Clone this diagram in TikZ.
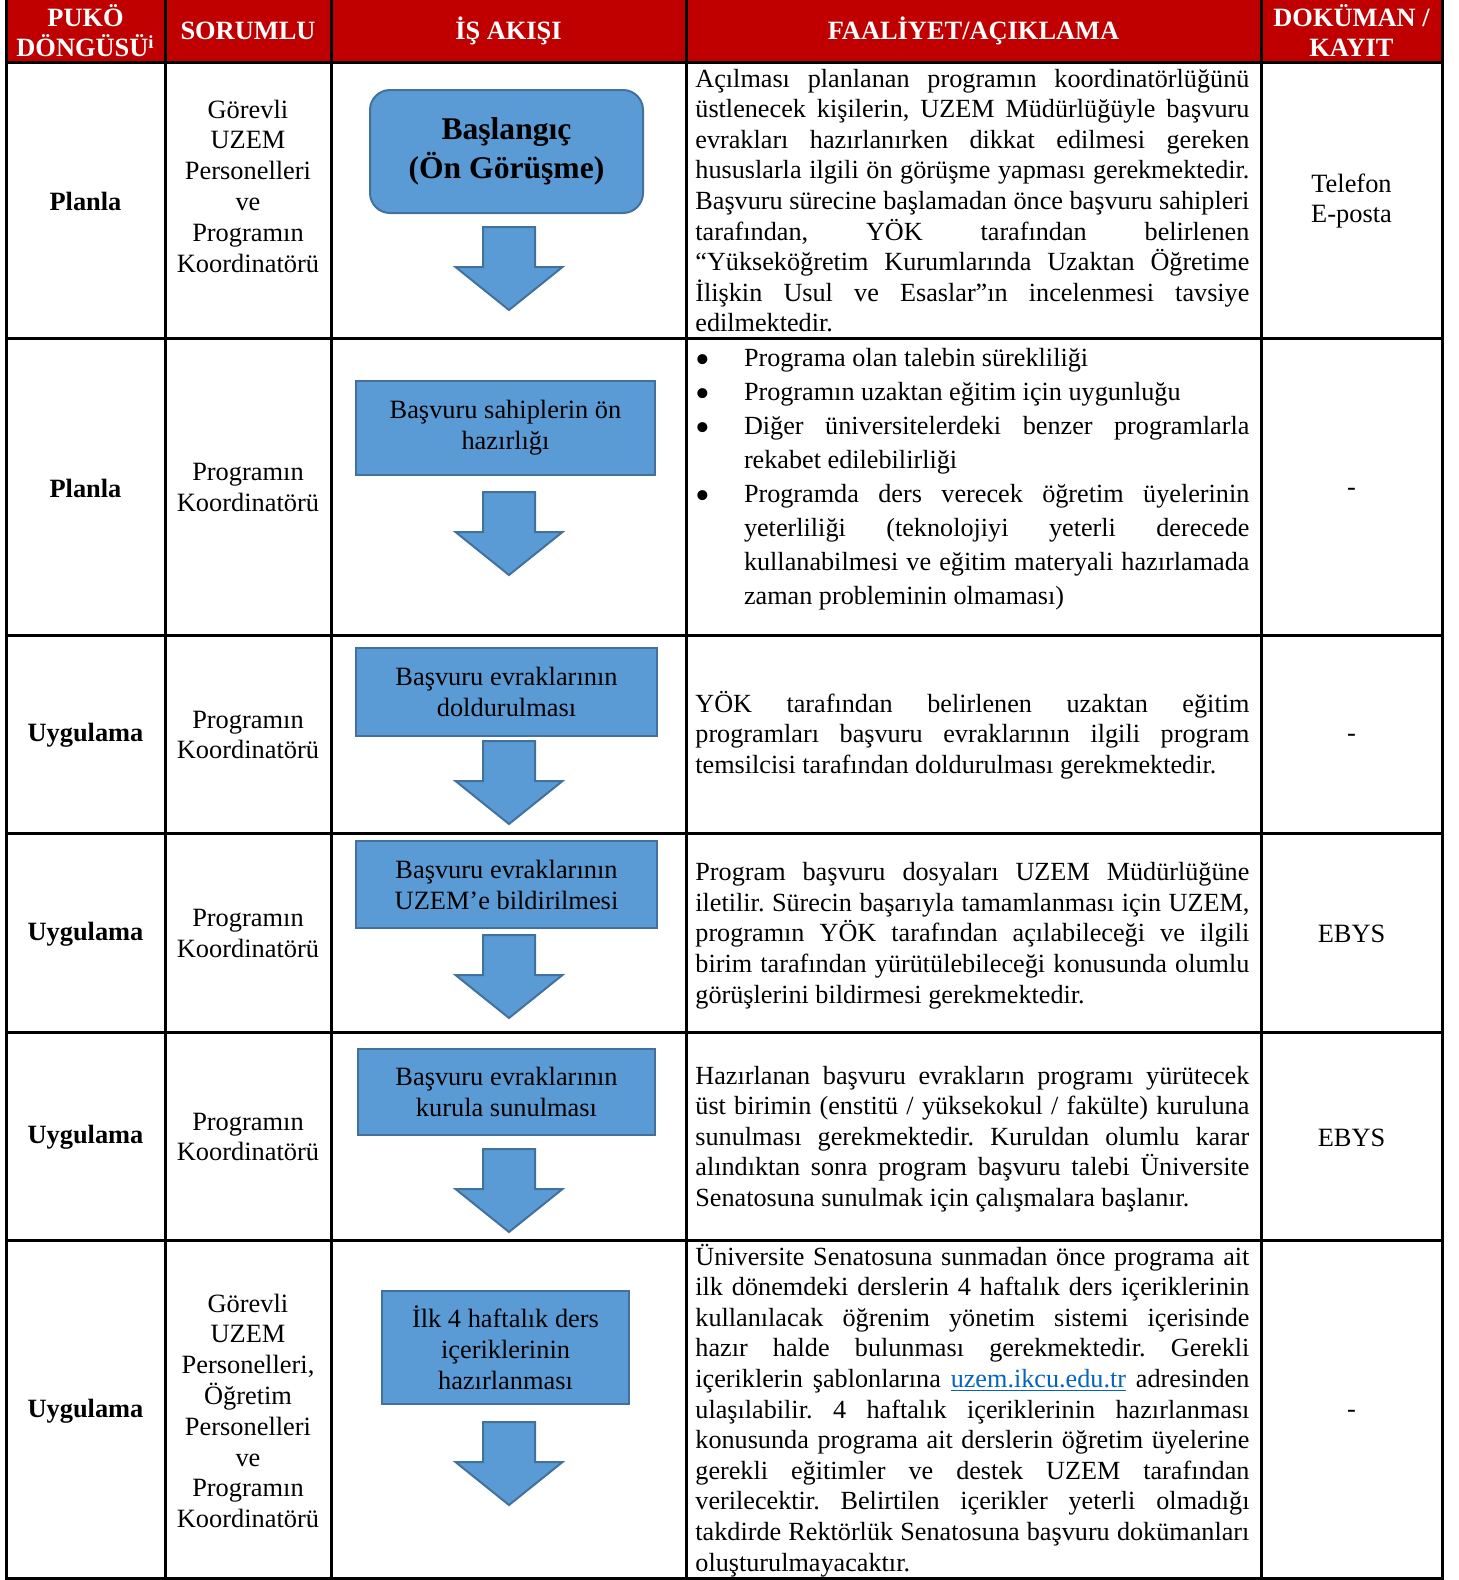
\documentclass[tikz,border=0pt]{standalone}
\usepackage{fontspec}
\setmainfont{Liberation Serif}
\usepackage{xcolor}
\usetikzlibrary{calc,positioning}

\definecolor{hdrred}{HTML}{C00000}
\definecolor{boxblue}{HTML}{5B9BD5}
\definecolor{boxline}{HTML}{41719C}
\definecolor{linkblue}{HTML}{0563C1}

\newlength{\blt}\setlength{\blt}{24.3pt}
\newcommand{\jb}{\linebreak}
\newcommand{\bl}{\makebox[\blt][l]{\raisebox{-0.6ex}{\scalebox{1.6}{\textbullet}}}}
\newcommand{\faalfont}[1]{\fontsize{13.1}{#1}\selectfont\frenchspacing
  \tolerance=10000 \hbadness=10000 \hyphenpenalty=10000 \exhyphenpenalty=10000\relax}
\newcommand{\flowarrow}[1]{%
  \draw[flow arrow] ($(#1)+(-26,0)$) -- ++(52,0) -- ++(0,40) -- ++(27.5,0)
    -- ($(#1)+(0,83)$) -- ++(-53.5,-43) -- ++(27.5,0) -- cycle;}

\begin{document}
\begin{tikzpicture}[x=0.5pt, y=-0.5pt,
  grid line/.style={line width=1.5pt, line cap=rect},
  head text/.style={text=white, font=\fontsize{13.2}{15}\selectfont\bfseries, align=center},
  puko text/.style={font=\fontsize{13.2}{15.3}\selectfont\bfseries},
  cell text/.style={font=\fontsize{13.2}{15.4}\selectfont, align=center},
  faal text/.style={anchor=base west, inner sep=0pt, text width=277pt, align=justify, font=\faalfont{15.3}},
  start box/.style={draw=boxline, line width=1pt, fill=boxblue, rounded corners=10pt, align=center, font=\fontsize{15.8}{19.5}\selectfont\bfseries, minimum width=136.5pt, minimum height=61.5pt},
  step box/.style={draw=boxline, line width=1pt, fill=boxblue, align=center, font=\fontsize{13.2}{15.5}\selectfont},
  flow arrow/.style={draw=boxline, line width=1pt, fill=boxblue, line join=miter}]
\useasboundingbox (0,0) rectangle (1458,1580);
% table
\fill[hdrred] (6,0) rectangle (1442,62.5);
\foreach \x in {6,165,331,686,1261,1442} \draw[grid line] (\x,0) -- (\x,1578);
\foreach \y in {62.5,338.5,635,833,1032,1240,1578} \draw[grid line] (6,\y) -- (1442,\y);
% header
\node[head text] (h1) at (85.5,31) {PUKÖ\\DÖNGÜSÜ\textsuperscript{i}};
\node[head text] (h2) at (248,31) {SORUMLU};
\node[head text] (h3) at (508.5,31) {İŞ AKIŞI};
\node[head text] (h4) at (973.5,31) {FAALİYET/AÇIKLAMA};
\node[head text] (h5) at (1351.5,31) {DOKÜMAN /\\KAYIT};
% puko
\node[puko text] (p1) at (85.5,201) {Planla};
\node[puko text] (p2) at (85.5,488.7) {Planla};
\node[puko text] (p3) at (85.5,735.6) {Uygulama};
\node[puko text] (p4) at (85.5,934) {Uygulama};
\node[puko text] (p5) at (85.5,1137.6) {Uygulama};
\node[puko text] (p6) at (85.5,1411.6) {Uygulama};
% sorumlu
\node[cell text] (s1) at (248,186) {Görevli\\UZEM\\Personelleri\\ve\\Programın\\Koordinatörü};
\node[cell text] (s2) at (248,487.7) {Programın\\Koordinatörü};
\node[cell text] (s3) at (248,735) {Programın\\Koordinatörü};
\node[cell text] (s4) at (248,933.6) {Programın\\Koordinatörü};
\node[cell text] (s5) at (248,1137) {Programın\\Koordinatörü};
\node[cell text] (s6) at (248,1410.8) {Görevli\\UZEM\\Personelleri,\\Öğretim\\Personelleri\\ve\\Programın\\Koordinatörü};
% is akisi
\node[start box] (b1) at (506.5,151.5) {Başlangıç\\(Ön Görüşme)};
\node[step box, minimum width=149.5pt, minimum height=47pt] (b2) at (505.5,428) {Başvuru sahiplerin ön\\hazırlığı};
\node[step box, minimum width=150.5pt, minimum height=44pt] (b3) at (506.5,692) {Başvuru evraklarının\\doldurulması};
\node[step box, minimum width=150.5pt, minimum height=43.5pt] (b4) at (506.5,884.5) {Başvuru evraklarının\\UZEM’e bildirilmesi};
\node[step box, minimum width=148.5pt, minimum height=43pt] (b5) at (506.5,1092) {Başvuru evraklarının\\kurula sunulması};
\node[step box, minimum width=123.5pt, minimum height=56.5pt] (b6) at (505.5,1347.5) {İlk 4 haftalık ders\\içeriklerinin\\hazırlanması};
\coordinate (a1) at (509,227);
\coordinate (a2) at (509,492);
\coordinate (a3) at (509,741);
\coordinate (a4) at (509,935);
\coordinate (a5) at (509,1149);
\coordinate (a6) at (509,1422);
\foreach \a in {a1,a2,a3,a4,a5,a6} {\flowarrow{\a}}
% faaliyet
\node[faal text] (f1) at (695,87) {Açılması planlanan programın koordinatörlüğünü\jb
  üstlenecek kişilerin, UZEM Müdürlüğüyle başvuru\jb
  evrakları hazırlanırken dikkat edilmesi gereken\jb
  hususlarla ilgili ön görüşme yapması gerekmektedir.\jb
  Başvuru sürecine başlamadan önce başvuru sahipleri\jb
  tarafından, YÖK tarafından belirlenen\jb
  “Yükseköğretim Kurumlarında Uzaktan Öğretime\jb
  İlişkin Usul ve Esaslar”ın incelenmesi tavsiye\jb
  edilmektedir.};
\node[faal text, font=\faalfont{17}] (f2) at (695,366) {\bl Programa olan talebin sürekliliği\\
  \bl Programın uzaktan eğitim için uygunluğu\\
  \bl Diğer üniversitelerdeki benzer programlarla\jb
  \hspace*{\blt}rekabet edilebilirliği\\
  \bl Programda ders verecek öğretim üyelerinin\jb
  \hspace*{\blt}yeterliliği (teknolojiyi yeterli derecede\jb
  \hspace*{\blt}kullanabilmesi ve eğitim materyali hazırlamada\jb
  \hspace*{\blt}zaman probleminin olmaması)};
\node[faal text] (f3) at (695,712) {YÖK tarafından belirlenen uzaktan eğitim\jb
  programları başvuru evraklarının ilgili program\jb
  temsilcisi tarafından doldurulması gerekmektedir.};
\node[faal text] (f4) at (695,880.6) {Program başvuru dosyaları UZEM Müdürlüğüne\jb
  iletilir. Sürecin başarıyla tamamlanması için UZEM,\jb
  programın YÖK tarafından açılabileceği ve ilgili\jb
  birim tarafından yürütülebileceği konusunda olumlu\jb
  görüşlerini bildirmesi gerekmektedir.};
\node[faal text] (f5) at (695,1084) {Hazırlanan başvuru evrakların programı yürütecek\jb
  üst birimin (enstitü / yüksekokul / fakülte) kuruluna\jb
  sunulması gerekmektedir. Kuruldan olumlu karar\jb
  alındıktan sonra program başvuru talebi Üniversite\jb
  Senatosuna sunulmak için çalışmalara başlanır.};
\node[faal text] (f6) at (695,1265) {Üniversite Senatosuna sunmadan önce programa ait\jb
  ilk dönemdeki derslerin 4 haftalık ders içeriklerinin\jb
  kullanılacak öğrenim yönetim sistemi içerisinde\jb
  hazır halde bulunması gerekmektedir. Gerekli\jb
  içeriklerin şablonlarına \textcolor{linkblue}{\underline{uzem.ikcu.edu.tr}} adresinden\jb
  ulaşılabilir. 4 haftalık içeriklerinin hazırlanması\jb
  konusunda programa ait derslerin öğretim üyelerine\jb
  gerekli eğitimler ve destek UZEM tarafından\jb
  verilecektir. Belirtilen içerikler yeterli olmadığı\jb
  takdirde Rektörlük Senatosuna başvuru dokümanları\jb
  oluşturulmayacaktır.};
% dokuman
\node[cell text] (d1) at (1351.5,201) {Telefon\\E-posta};
\node[cell text, anchor=base] (d2) at (1351.5,495) {-};
\node[cell text, anchor=base] (d3) at (1351.5,741.6) {-};
\node[cell text] (d4) at (1351.5,934) {EBYS};
\node[cell text] (d5) at (1351.5,1137.6) {EBYS};
\node[cell text, anchor=base] (d6) at (1351.5,1417.6) {-};
\end{tikzpicture}
\end{document}
